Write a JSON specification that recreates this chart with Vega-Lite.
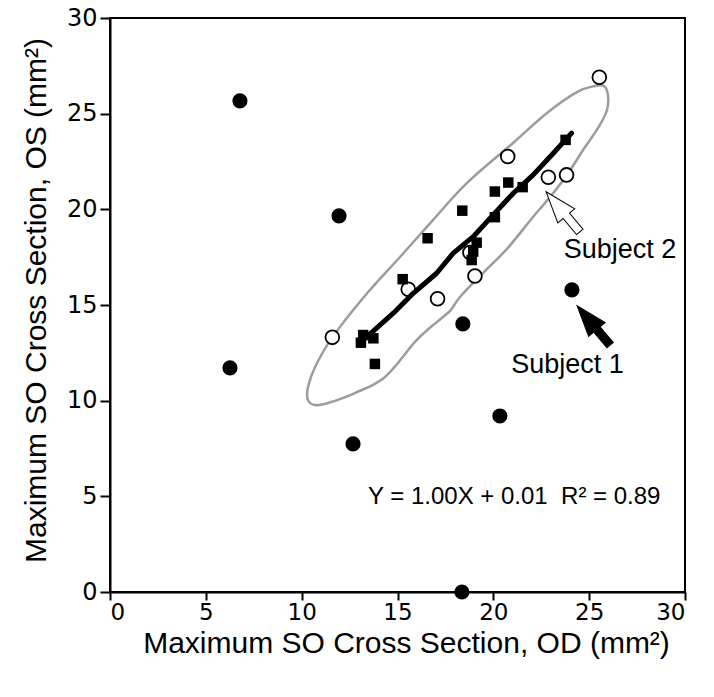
{
  "$schema": "https://vega.github.io/schema/vega-lite/v6.json",
  "width": 575,
  "height": 574,
  "autosize": {"type": "none"},
  "padding": {"left": 110, "top": 18, "right": 29, "bottom": 105},
  "background": "white",
  "config": {
    "view": {"stroke": "black", "strokeWidth": 2},
    "axis": {
      "grid": false,
      "domainColor": "black",
      "domainWidth": 2,
      "tickColor": "black",
      "tickWidth": 2,
      "tickSize": 10,
      "labelFont": "DejaVu Sans",
      "labelFontSize": 24,
      "labelColor": "black",
      "labelPadding": 3,
      "titleFont": "Liberation Sans",
      "titleFontSize": 30,
      "titleFontWeight": "normal",
      "titleColor": "black"
    }
  },
  "datasets": {
    "subjects": [
      {"group": "A", "od": 6.78, "os": 25.67},
      {"group": "A", "od": 11.95, "os": 19.66},
      {"group": "A", "od": 6.26, "os": 11.71},
      {"group": "A", "od": 12.68, "os": 7.74},
      {"group": "A", "od": 18.41, "os": 14.01},
      {"group": "A", "od": 20.34, "os": 9.2},
      {"group": "A", "od": 24.1, "os": 15.79},
      {"group": "A", "od": 18.36, "os": 0.0},
      {"group": "B", "od": 25.53, "os": 26.9},
      {"group": "B", "od": 20.75, "os": 22.76},
      {"group": "B", "od": 22.87, "os": 21.68},
      {"group": "B", "od": 23.82, "os": 21.8},
      {"group": "B", "od": 18.78, "os": 17.74},
      {"group": "B", "od": 19.04, "os": 16.52},
      {"group": "B", "od": 15.56, "os": 15.82},
      {"group": "B", "od": 17.09, "os": 15.33},
      {"group": "B", "od": 11.6, "os": 13.31},
      {"group": "C", "od": 23.77, "os": 23.63},
      {"group": "C", "od": 20.78, "os": 21.4},
      {"group": "C", "od": 20.08, "os": 20.93},
      {"group": "C", "od": 21.53, "os": 21.16},
      {"group": "C", "od": 18.38, "os": 19.93},
      {"group": "C", "od": 20.08, "os": 19.59},
      {"group": "C", "od": 16.57, "os": 18.49},
      {"group": "C", "od": 19.13, "os": 18.26},
      {"group": "C", "od": 18.95, "os": 17.79},
      {"group": "C", "od": 18.87, "os": 17.35},
      {"group": "C", "od": 15.27, "os": 16.35},
      {"group": "C", "od": 13.21, "os": 13.43},
      {"group": "C", "od": 13.74, "os": 13.26},
      {"group": "C", "od": 13.09, "os": 13.03},
      {"group": "C", "od": 13.82, "os": 11.92}
    ],
    "ellipse": [
      {"i": 1, "od": 25.77, "os": 26.45},
      {"i": 2, "od": 25.98, "os": 25.98},
      {"i": 3, "od": 25.93, "os": 25.19},
      {"i": 4, "od": 25.56, "os": 24.41},
      {"i": 5, "od": 25.15, "os": 23.78},
      {"i": 6, "od": 24.68, "os": 23.1},
      {"i": 7, "od": 23.84, "os": 21.79},
      {"i": 8, "od": 22.96, "os": 20.64},
      {"i": 9, "od": 22.07, "os": 19.6},
      {"i": 10, "od": 20.71, "os": 17.93},
      {"i": 11, "od": 19.46, "os": 16.67},
      {"i": 12, "od": 18.26, "os": 15.42},
      {"i": 13, "od": 17.74, "os": 14.69},
      {"i": 14, "od": 16.8, "os": 13.9},
      {"i": 15, "od": 15.91, "os": 13.07},
      {"i": 16, "od": 14.35, "os": 11.24},
      {"i": 17, "od": 12.78, "os": 10.4},
      {"i": 18, "od": 11.37, "os": 9.88},
      {"i": 19, "od": 10.7, "os": 9.77},
      {"i": 20, "od": 10.33, "os": 10.03},
      {"i": 21, "od": 10.33, "os": 10.71},
      {"i": 22, "od": 10.7, "os": 11.76},
      {"i": 23, "od": 11.58, "os": 13.28},
      {"i": 24, "od": 13.25, "os": 15.42},
      {"i": 25, "od": 15.13, "os": 17.51},
      {"i": 26, "od": 16.85, "os": 19.44},
      {"i": 27, "od": 18.63, "os": 21.38},
      {"i": 28, "od": 21.03, "os": 23.47},
      {"i": 29, "od": 22.8, "os": 25.04},
      {"i": 30, "od": 24.36, "os": 26.13},
      {"i": 31, "od": 25.3, "os": 26.45}
    ],
    "fit": [
      {"i": 1, "od": 13.21, "os": 13.17},
      {"i": 2, "od": 14.78, "os": 14.57},
      {"i": 3, "od": 15.82, "os": 15.61},
      {"i": 4, "od": 17.04, "os": 16.66},
      {"i": 5, "od": 17.91, "os": 17.71},
      {"i": 6, "od": 18.95, "os": 18.57},
      {"i": 7, "od": 19.99, "os": 19.71},
      {"i": 8, "od": 21.04, "os": 20.84},
      {"i": 9, "od": 22.08, "os": 21.8},
      {"i": 10, "od": 23.13, "os": 22.93},
      {"i": 11, "od": 24.08, "os": 23.98}
    ],
    "arrow2": [{"od": 23.63, "os": 19.87}],
    "arrow1": [{"od": 25.23, "os": 13.93}],
    "labels": [
      {"od": 26.61, "os": 17.44, "text": "Subject 2"},
      {"od": 23.87, "os": 11.46, "text": "Subject 1"}
    ],
    "equation": [{"od": 21.09, "os": 4.6, "text": "Y = 1.00X + 0.01\u00a0 R² = 0.89"}]
  },
  "encoding": {
    "x": {
      "field": "od",
      "type": "quantitative",
      "scale": {"domain": [0, 30], "nice": false, "zero": false},
      "axis": {
        "values": [0, 5, 10, 15, 20, 25, 30],
        "tickSize": 8,
        "labelPadding": 1,
        "labelFontSize": 23,
        "title": "Maximum SO Cross Section, OD (mm²)",
        "titleX": 296,
        "titleY": 60,
        "titleBaseline": "alphabetic",
        "titleAlign": "center"
      }
    },
    "y": {
      "field": "os",
      "type": "quantitative",
      "scale": {"domain": [0, 30], "nice": false, "zero": false},
      "axis": {
        "values": [0, 5, 10, 15, 20, 25, 30],
        "title": "Maximum SO Cross Section, OS (mm²)",
        "titleX": -65,
        "titleY": 282,
        "titleAngle": 270,
        "titleBaseline": "alphabetic",
        "titleAlign": "center"
      }
    }
  },
  "layer": [
    {
      "data": {"name": "ellipse"},
      "mark": {"type": "line", "color": "#9c9c9c", "strokeWidth": 2.5, "interpolate": "cardinal-closed"},
      "encoding": {"order": {"field": "i", "type": "quantitative"}}
    },
    {
      "data": {"name": "subjects"},
      "transform": [{"filter": "datum.group === 'B'"}],
      "mark": {"type": "point", "shape": "circle", "filled": false, "fill": "white", "fillOpacity": 1, "stroke": "black", "strokeWidth": 1.8, "size": 190, "opacity": 1}
    },
    {
      "data": {"name": "subjects"},
      "transform": [{"filter": "datum.group === 'C'"}],
      "mark": {"type": "square", "color": "black", "size": 110, "opacity": 1}
    },
    {
      "data": {"name": "fit"},
      "mark": {"type": "line", "color": "black", "strokeWidth": 5, "strokeCap": "round", "strokeJoin": "round"},
      "encoding": {"order": {"field": "i", "type": "quantitative"}}
    },
    {
      "data": {"name": "subjects"},
      "transform": [{"filter": "datum.group === 'A'"}],
      "mark": {"type": "circle", "color": "black", "size": 230, "opacity": 1}
    },
    {
      "data": {"name": "arrow2"},
      "mark": {"type": "point", "shape": "M0,-1 L0.42,0.2 L0.16,0.2 L0.16,1 L-0.16,1 L-0.16,0.2 L-0.42,0.2 Z", "size": 2750, "angle": 320, "filled": true, "fill": "white", "stroke": "black", "strokeWidth": 1, "opacity": 1}
    },
    {
      "data": {"name": "arrow1"},
      "mark": {"type": "point", "shape": "M0,-1 L0.42,0.2 L0.16,0.2 L0.16,1 L-0.16,1 L-0.16,0.2 L-0.42,0.2 Z", "size": 2650, "angle": 320, "filled": true, "fill": "black", "stroke": "black", "strokeWidth": 1, "opacity": 1}
    },
    {
      "data": {"name": "labels"},
      "mark": {"type": "text", "font": "Liberation Sans", "fontSize": 27, "color": "black", "align": "center", "baseline": "alphabetic"},
      "encoding": {"text": {"field": "text"}}
    },
    {
      "data": {"name": "equation"},
      "mark": {"type": "text", "font": "Liberation Sans", "fontSize": 24, "color": "black", "align": "center", "baseline": "alphabetic"},
      "encoding": {"text": {"field": "text"}}
    }
  ]
}
